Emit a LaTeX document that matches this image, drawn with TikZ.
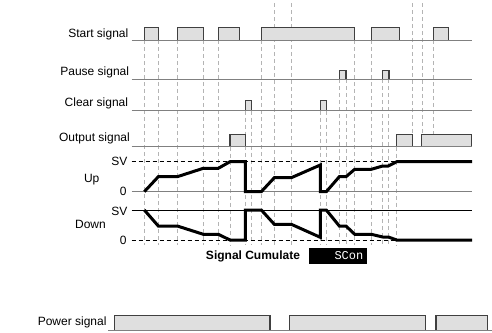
\documentclass[tikz,border=0pt]{standalone}
\usepackage{fontspec}
\setmainfont{Liberation Sans}
\newfontfamily\lcdfont{Liberation Mono}
\definecolor{pulsefill}{HTML}{DFDFDF}
\definecolor{pulseline}{HTML}{404040}
\definecolor{wiregray}{HTML}{808080}
\definecolor{guidegray}{HTML}{B4B4B4}

\begin{document}
\begin{tikzpicture}[x=1pt,y=-1pt,
    pulse/.style={draw=pulseline,fill=pulsefill,line width=1.1pt},
    wire/.style={draw=wiregray,line width=1pt},
    guide/.style={draw=guidegray,line width=0.8pt,dash pattern=on 4pt off 3pt},
    refdash/.style={draw=black,line width=0.8pt,dash pattern=on 4pt off 3pt},
    level/.style={line width=3pt,line join=miter},
    lbl/.style={font=\fontsize{12}{14}\selectfont,inner sep=0pt}]

      \useasboundingbox (0,0) rectangle (492,332);

      % lignes de repere verticales
      \draw[guide] (144.3,40) -- (144.3,245);
      \draw[guide] (158.3,40) -- (158.3,245);
      \draw[guide] (177.3,40) -- (177.3,245);
      \draw[guide] (203.3,40) -- (203.3,245);
      \draw[guide] (218.3,40) -- (218.3,245);
      \draw[guide] (230,146.7) -- (230,245);
      \draw[guide] (245.3,110.7) -- (245.3,245);
      \draw[guide] (251.7,110.7) -- (251.7,245);
      \draw[guide] (261.3,40) -- (261.3,245);
      \draw[guide] (274.3,3) -- (274.3,245);
      \draw[guide] (291.3,3) -- (291.3,245);
      \draw[guide] (320.3,110.7) -- (320.3,245);
      \draw[guide] (326.3,110.7) -- (326.3,245);
      \draw[guide] (339.3,79.3) -- (339.3,245);
      \draw[guide] (346,79.3) -- (346,245);
      \draw[guide] (354.7,40) -- (354.7,245);
      \draw[guide] (371.3,40) -- (371.3,245);
      \draw[guide] (382.7,79.3) -- (382.7,245);
      \draw[guide] (388.3,79.3) -- (388.3,245);
      \draw[guide] (396.7,146.7) -- (396.7,245);
      \draw[guide] (412.3,3) -- (412.3,134.3);
      \draw[guide] (422.3,3) -- (422.3,134.3);
      \draw[guide] (433.7,40) -- (433.7,134.3);

      % impulsions start
      \draw[pulse] (144.3,40) |- (158.3,27.3) -- (158.3,40);
      \draw[pulse] (177.3,40) |- (203.3,27.3) -- (203.3,40);
      \draw[pulse] (218.3,40) |- (239.3,27.3) -- (239.3,40);
      \draw[pulse] (261.3,40) |- (354.7,27.3) -- (354.7,40);
      \draw[pulse] (371.3,40) |- (399.7,27.3) -- (399.7,40);
      \draw[pulse] (433.7,40) |- (448.3,27.3) -- (448.3,40);

      % impulsions pause et clear
      \draw[pulse] (339.3,79.3) |- (346,70.3) -- (346,79.3);
      \draw[pulse] (382.7,79.3) |- (389,70.3) -- (389,79.3);
      \draw[pulse] (245.3,110.7) |- (251.7,100.7) -- (251.7,110.7);
      \draw[pulse] (320.3,110.7) |- (326.3,100.7) -- (326.3,110.7);

      % impulsions output
      \draw[pulse] (230,146.7) |- (245.7,134.3) -- (245.7,146.7);
      \draw[pulse] (396.7,146.7) |- (412.3,134.3) -- (412.3,146.7);
      \draw[pulse] (421.7,146.7) |- (471.7,134.3) -- (471.7,146.7);

      % impulsions power
      \draw[pulse] (114.3,330) |- (270,315.7) -- (270,330);
      \draw[pulse] (289.3,330) |- (425.7,315.7) -- (425.7,330);
      \draw[pulse] (436,330) |- (487.3,315.7) -- (487.3,330);

      % lignes de base
      \draw[wire] (131.7,40) -- (472,40);
      \draw[wire] (131.7,79.3) -- (472,79.3);
      \draw[wire] (131.7,110.7) -- (472,110.7);
      \draw[wire] (131.7,146.7) -- (472,146.7);
      \draw[wire] (131.7,191.7) -- (472,191.7);
      \draw[wire] (108.3,330) -- (491.5,330);

      % niveaux SV et 0
      \draw[refdash] (131.7,161.7) -- (396.7,161.7);
      \draw[line width=0.8pt] (131.7,210) -- (472,210);
      \draw[refdash] (131.7,240) -- (396.7,240);

      % valeur cumulee, comptage montant
      \draw[level] (144.3,191.7) -- (158.3,176.7) -- (177.3,176.7) -- (203.3,168.3)
        -- (218.3,168.3) -- (230,161.7) -- (245.3,161.7) -- (245.3,191.7)
        -- (261.3,191.7) -- (274.3,177.7) -- (291.3,177.7) -- (320.3,165)
        -- (320.3,191.7) -- (326.3,191.7) -- (339.3,176.7) -- (346,176.7)
        -- (354.7,169.3) -- (371.3,169.3) -- (382.7,166) -- (388.3,166)
        -- (396.7,161.7) -- (472,161.7);

      % valeur cumulee, comptage descendant
      \draw[level] (144.3,210) -- (158.3,226) -- (177.3,226) -- (203.3,234.3)
        -- (218.3,234.3) -- (230,240) -- (245.3,240) -- (245.3,210)
        -- (261.3,210) -- (274.3,224.3) -- (291.3,224.3) -- (320.3,237.3)
        -- (320.3,210) -- (326.3,210) -- (339.3,226) -- (346,226)
        -- (354.7,234.3) -- (371.3,234.3) -- (382.7,237) -- (388.3,237)
        -- (396.7,240) -- (472,240);

      % etiquettes
      \node[lbl,anchor=base east] (start) at (128.5,37.5) {Start signal};
      \node[lbl,anchor=base east] (pause) at (129.3,75) {Pause signal};
      \node[lbl,anchor=base east] (clear) at (128.3,106.7) {Clear signal};
      \node[lbl,anchor=base east] (output) at (130,141.7) {Output signal};
      \node[lbl,anchor=base east] (power) at (106.7,325.7) {Power signal};
      \node[lbl,anchor=east] (upsv) at (127.7,161.7) {SV};
      \node[lbl,anchor=east] (upzero) at (126.7,191.7) {0};
      \node[lbl,anchor=east] (downsv) at (127.7,211.5) {SV};
      \node[lbl,anchor=east] (downzero) at (126.7,240) {0};
      \node[lbl] (up) at (91.7,180) {Up};
      \node[lbl] (down) at (90.5,224.3) {Down};

      % affichage
      \node[lbl,font=\fontsize{12}{14}\selectfont\bfseries] (cumul) at (253,256.5) {Signal Cumulate};
      \fill (309,248.3) rectangle (366.7,263.7);
      \node[lbl,anchor=east,text=white,font=\lcdfont\fontsize{12}{14}\selectfont] (scon) at (363.5,256) {SCon};
    \end{tikzpicture}
\end{document}
